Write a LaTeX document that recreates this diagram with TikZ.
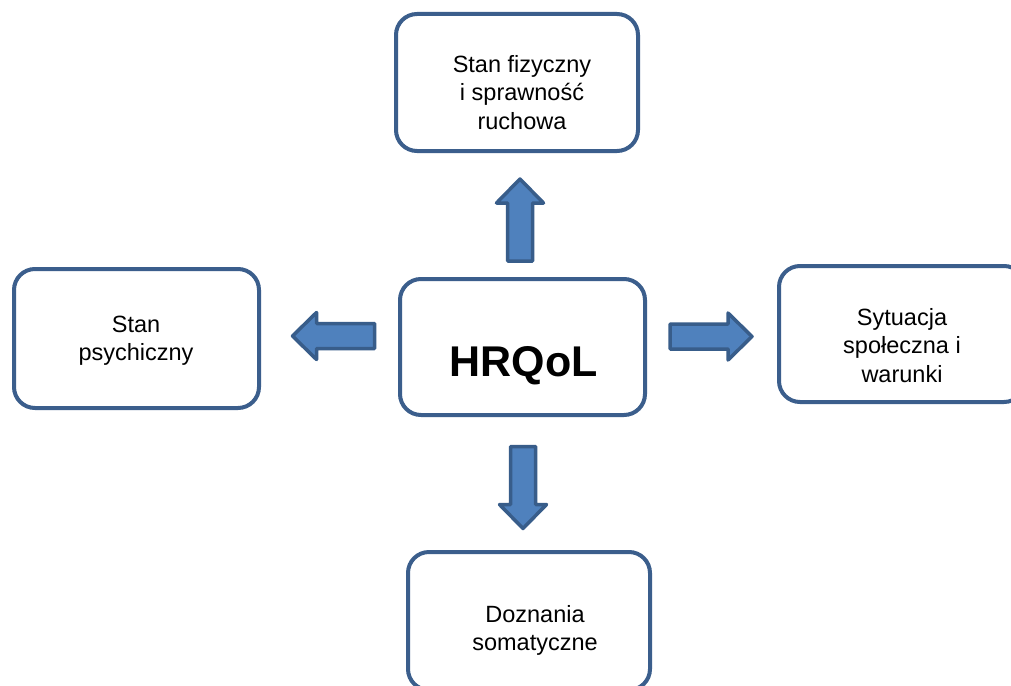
\documentclass[tikz,border=0pt]{standalone}
\usepackage{fontspec}
\setmainfont{Liberation Sans}
\definecolor{boxline}{HTML}{3B5E8C}
\definecolor{arrfill}{HTML}{4F81BD}
\definecolor{arrline}{HTML}{385D8A}
\begin{document}
\begin{tikzpicture}[x=1pt,y=-1pt,
  box/.style={draw=boxline, line width=4pt, rounded corners=21pt, fill=white, rectangle, inner sep=0pt},
  txt/.style={anchor=base, inner sep=0pt, font=\fontsize{23.5}{28.5}\selectfont},
  big/.style={anchor=base, inner sep=0pt, font=\fontsize{43}{48}\selectfont\bfseries},
  blockarrow/.pic={\draw[fill=arrfill, draw=arrline, line width=3.5pt, line join=round]
     (-41,-12.5) -- (17,-12.5) -- (17,-23.5) -- (41,0) -- (17,23.5) -- (17,12.5) -- (-41,12.5) -- cycle;}]
\useasboundingbox (0,0) rectangle (1011,685);
\fill[white] (0,0) rectangle (1011,685);
\clip (0,0) rectangle (1011,685);
% boxes
\node[box, minimum width=242pt, minimum height=137pt] (top) at (517,82.5) {};
\node[box, minimum width=245pt, minimum height=139pt] (left) at (136.5,338.5) {};
\node[box, minimum width=245pt, minimum height=136pt] (center) at (522.5,347) {};
\node[box, minimum width=246pt, minimum height=136pt] (right) at (902,334) {};
\node[box, minimum width=242pt, minimum height=138pt] (bottom) at (529,621) {};
% texts
\node[txt] (ttop) at (522,72) {\begin{tabular}[t]{@{}c@{}}Stan fizyczny\\ i sprawność\\ ruchowa\end{tabular}};
\node[txt] (tleft) at (136,332) {\begin{tabular}[t]{@{}c@{}}Stan\\ psychiczny\end{tabular}};
\node[big] (tcenter) at (523.5,376) {HRQoL};
\node[txt] (tright) at (902,325) {\begin{tabular}[t]{@{}c@{}}Sytuacja\\ społeczna i\\ warunki\end{tabular}};
\node[txt] (tbottom) at (535,622) {\begin{tabular}[t]{@{}c@{}}Doznania\\ somatyczne\end{tabular}};
% block arrows
\pic[rotate=90] (aup) at (520,220) {blockarrow};
\pic[rotate=180] (aleft) at (333.5,336) {blockarrow};
\pic (aright) at (711,336.5) {blockarrow};
\pic[rotate=-90] (adown) at (523,487.5) {blockarrow};
\end{tikzpicture}
\end{document}
